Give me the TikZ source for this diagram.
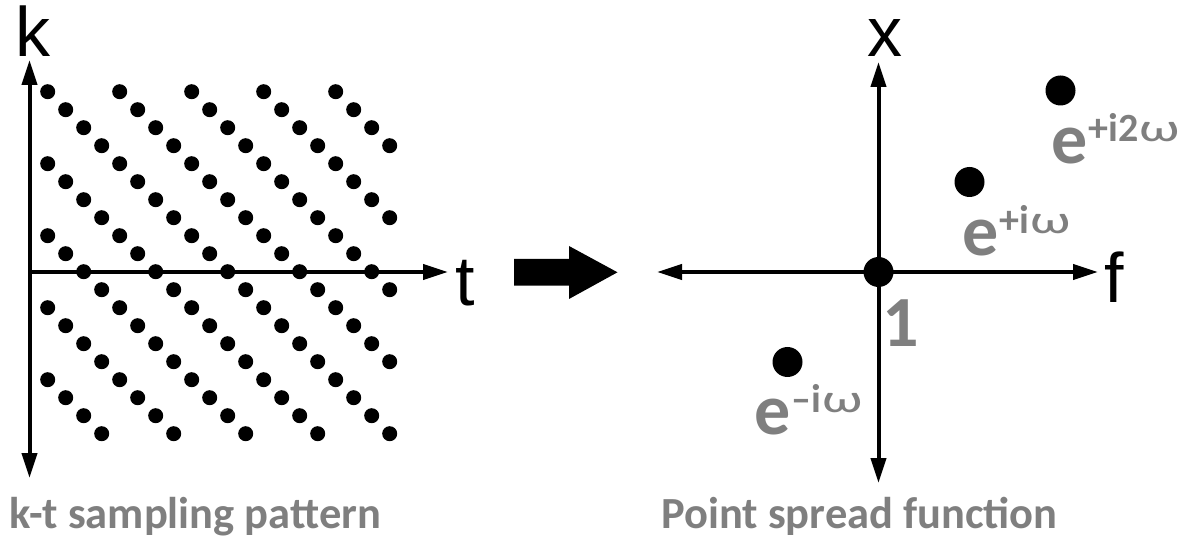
\documentclass[tikz,border=0pt]{standalone}
\usepackage{fontspec}
\setmainfont{Carlito}
\newfontfamily\axisfont{Liberation Sans}
\usetikzlibrary{arrows.meta}
\definecolor{labelgray}{RGB}{127,127,127}

% exponent of a gray label: smaller, raised
\newcommand{\expo}[1]{\raisebox{22pt}{\kern1pt\fontsize{40}{40}\selectfont #1}}
% wide omega in the exponents
\newcommand{\om}{\kern1pt{\mdseries\scalebox{1.45}[1]{ω}}}

\begin{document}
\begin{tikzpicture}[x=1pt,y=-1pt,
  tip/.tip={Triangle[length=25pt,width=15pt]},
  axisline/.style={line width=4pt},
  axletter/.style={inner sep=0pt, anchor=base west, font=\axisfont\fontsize{70}{70}\selectfont},
  graylabel/.style={inner sep=0pt, anchor=base west, text=labelgray, font=\bfseries\fontsize{72}{72}\selectfont},
  caption/.style={inner sep=0pt, anchor=base west, text=labelgray, font=\bfseries\fontsize{44.5}{44.5}\selectfont},
  smalldot/.style={fill=black},
  bigdot/.style={fill=black}]
\useasboundingbox (0,0) rectangle (1192,545);

% ---- k-t plane ----
\coordinate (kTop) at (29.5,60);
\coordinate (kBot) at (29.5,478);
\coordinate (kOrig) at (29.5,272);
\coordinate (tEnd) at (448,272);
\draw[axisline,tip-tip] (kBot) -- (kTop);
\draw[axisline,-tip] (kOrig) -- (tEnd);

% sheared lattice of samples: one in four per row, shifted by one each row
\foreach \i in {0,...,19}{
  \foreach \j in {0,...,19}{
    \pgfmathtruncatemacro\r{mod(\j-\i+20,4)}
    \ifnum\r=0
      \fill[smalldot] (47.7+18*\j,91.7+18*\i) circle[radius=7.5pt];
    \fi
  }
}

\node[axletter] (klab) at (15.5,57) {k};
\node[axletter] (tlab) at (455,306) {t};

% ---- block arrow ----
\fill (514,259) -- (569,259) -- (569,246) -- (617.5,272.3) -- (569,299)
      -- (569,285.7) -- (514,285.7) -- cycle;

% ---- x-f plane ----
\coordinate (xTop) at (878.5,62);
\coordinate (xBot) at (878.5,483);
\coordinate (fLeft) at (657,272);
\coordinate (fRight) at (1098,272);
\draw[axisline,tip-tip] (xBot) -- (xTop);
\draw[axisline,tip-tip] (fLeft) -- (fRight);

\fill[bigdot] (878.5,272) circle[radius=15pt];
\fill[bigdot] (969.5,182) circle[radius=15pt];
\fill[bigdot] (1060.5,90.5) circle[radius=15pt];
\fill[bigdot] (787.5,362) circle[radius=15pt];

\node[axletter] (xlab) at (867,57) {x};
\node[axletter] (flab) at (1104,303) {f};

\node[graylabel] (one) at (882,347) {1};
\node[graylabel] (ep2) at (1051,164) {e\expo{+i2\om}};
\node[graylabel] (ep1) at (962,256) {e\expo{+i\om}};
\node[graylabel] (em1) at (754,435) {e\expo{–i\om}};

% ---- captions ----
\node[caption] (capL) at (9,528) {k-t sampling pattern};
\node[caption] (capR) at (661,528) {Point spread function};
\end{tikzpicture}
\end{document}
